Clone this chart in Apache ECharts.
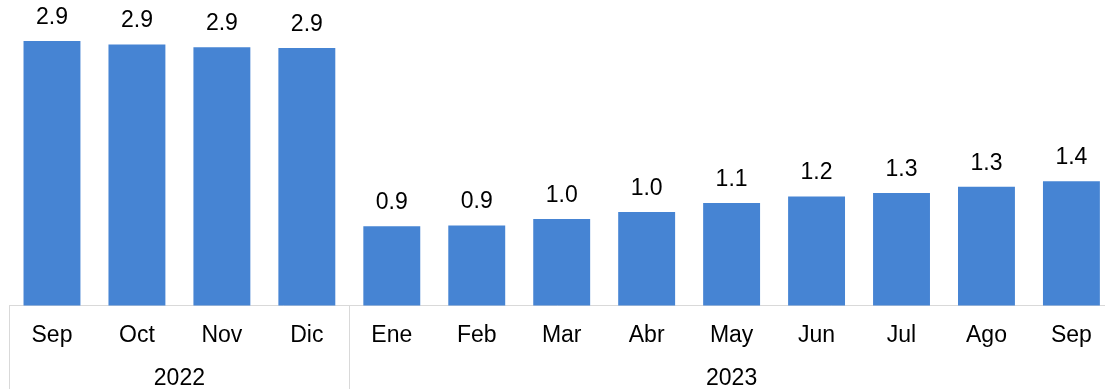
<!DOCTYPE html>
<html>
<head>
<meta charset="utf-8">
<script src="https://cdn.jsdelivr.net/npm/echarts@6/dist/echarts.min.js"></script>
<style>
  html, body { margin: 0; padding: 0; background: #fff; }
  #chart { width: 1105px; height: 389px; }
</style>
</head>
<body>
<div id="chart"></div>
<script>
// Monthly values, Sep 2022 – Sep 2023
const months = ['Sep', 'Oct', 'Nov', 'Dic', 'Ene', 'Feb', 'Mar', 'Abr', 'May', 'Jun', 'Jul', 'Ago', 'Sep'];
const values = [2.94, 2.90, 2.87, 2.86, 0.88, 0.89, 0.96, 1.04, 1.14, 1.21, 1.25, 1.32, 1.38];

// Year groups shown under the month labels
const years = ['2022', '2023'];
const yearMonthCounts = [4, 9];

// Group boundaries and label centers in category units
const yearBounds = [0];
yearMonthCounts.forEach(n => yearBounds.push(yearBounds[yearBounds.length - 1] + n));
const yearCenters = years.map((_, i) => (yearBounds[i] + yearBounds[i + 1]) / 2);

const FONT = '"Liberation Sans", Arial, sans-serif';
const AXIS_GRAY = '#d9d9d9';

const chart = echarts.init(document.getElementById('chart'), null, { renderer: 'canvas' });

chart.setOption({
  animation: false,
  // the plot runs a little past the right edge of the canvas
  grid: {
    left: 9.5, width: 1104.4, top: 8.5, bottom: 83.5,
    containLabel: false,
    outerBoundsMode: 'none'
  },
  xAxis: [
    {
      type: 'category',
      data: months,
      position: 'bottom',
      axisLine: { show: true, lineStyle: { color: AXIS_GRAY, width: 1 } },
      axisTick: { show: false },
      axisLabel: { color: '#000', fontFamily: FONT, fontSize: 23, margin: 19, interval: 0 }
    },
    {
      type: 'value',
      min: 0,
      max: months.length,
      position: 'bottom',
      axisLine: { show: false },
      splitLine: { show: false },
      axisTick: {
        show: true,
        customValues: yearBounds,
        length: 84,
        lineStyle: { color: AXIS_GRAY, width: 1 }
      },
      axisLabel: {
        customValues: yearCenters,
        formatter: v => {
          const i = yearCenters.findIndex(c => Math.abs(c - v) < 1e-6);
          return i >= 0 ? years[i] : '';
        },
        color: '#000',
        fontFamily: FONT,
        fontSize: 23,
        margin: 62
      }
    }
  ],
  yAxis: {
    type: 'value',
    min: 0,
    max: 3.3,
    show: false,
    splitLine: { show: false }
  },
  series: [
    {
      type: 'bar',
      xAxisIndex: 0,
      data: values,
      barWidth: '67%',
      itemStyle: { color: '#4684d3' },
      label: {
        show: true,
        position: 'top',
        distance: 12,
        color: '#000',
        fontFamily: FONT,
        fontSize: 23,
        formatter: p => p.value.toFixed(1)
      }
    }
  ]
});
</script>
</body>
</html>
